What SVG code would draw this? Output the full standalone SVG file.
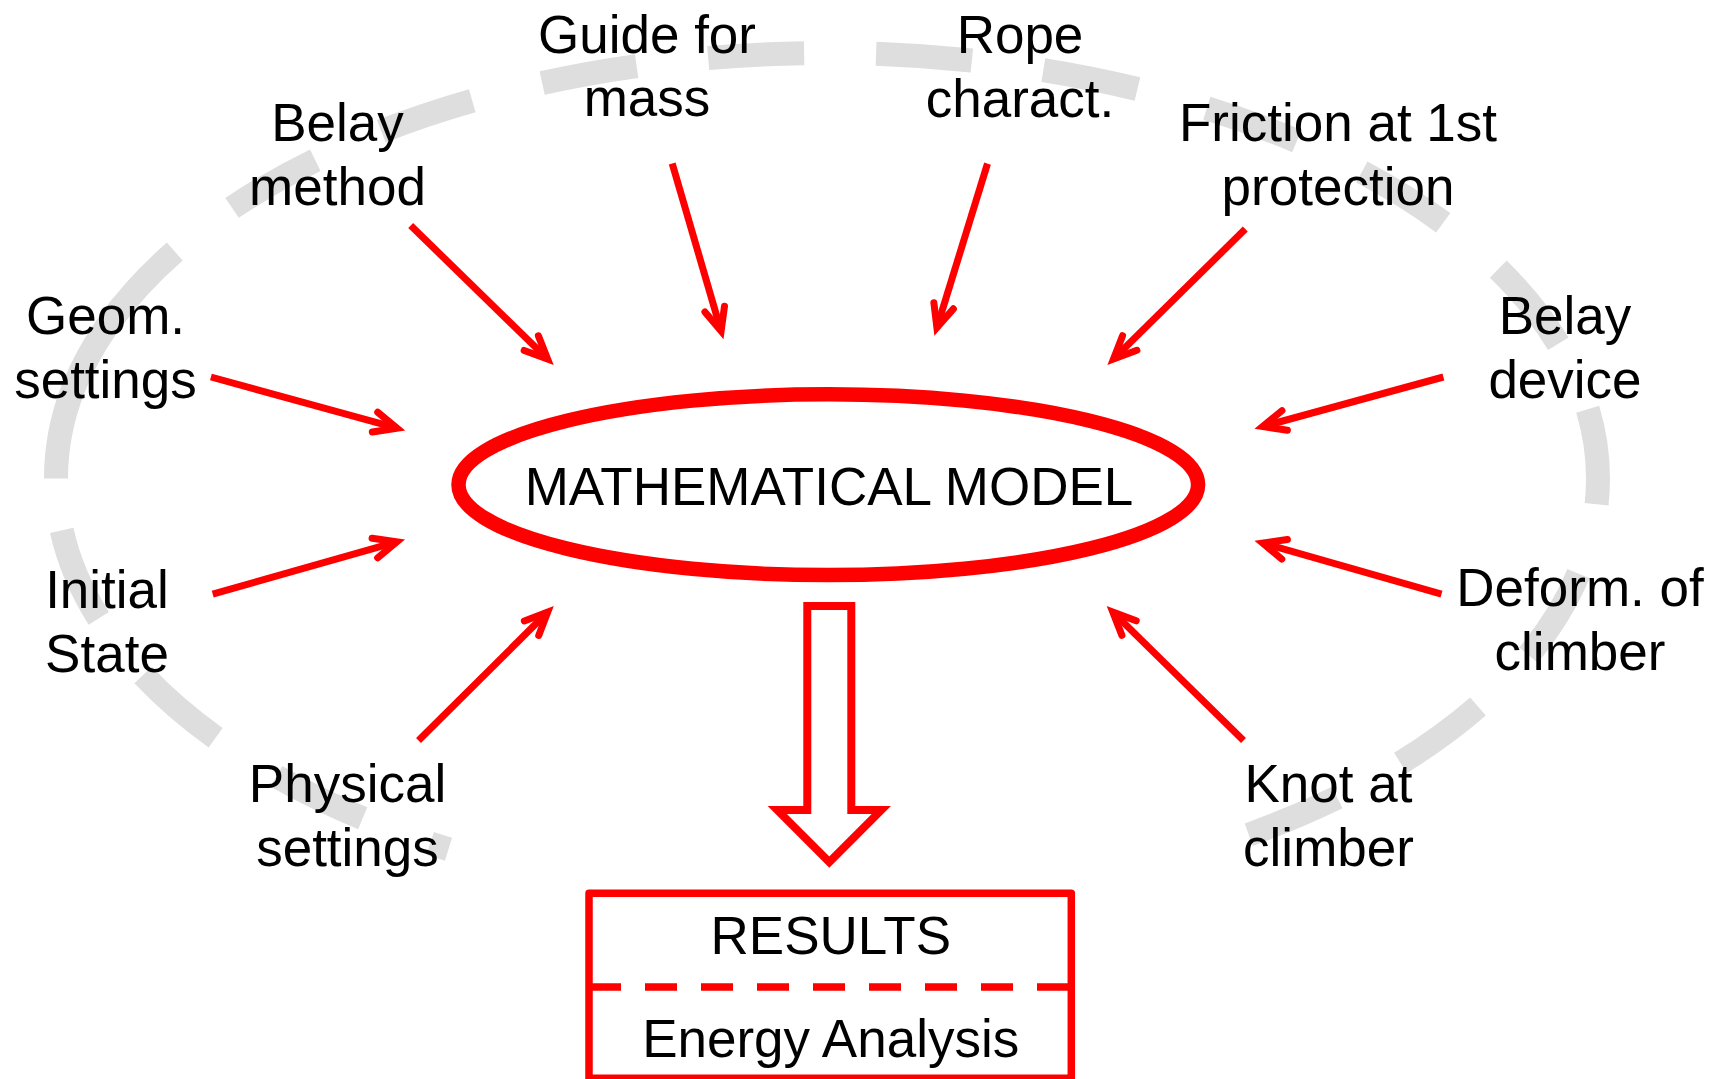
<svg xmlns="http://www.w3.org/2000/svg" width="1725" height="1079" viewBox="0 0 1725 1079">
<style>
  .ring { fill: none; stroke: #DEDEDE; stroke-width: 24; stroke-linecap: butt; }
  .lbl { font-family: "Liberation Sans", Arial, sans-serif; font-size: 53px; fill: #000000; text-anchor: middle; }
  .conn { stroke: #FF0000; stroke-width: 7; stroke-linecap: butt; fill: none; }
  .red { stroke: #FF0000; }
</style>
<defs>
  <marker id="ah" markerUnits="userSpaceOnUse" markerWidth="60" markerHeight="60" viewBox="-40 -30 60 60" refX="0" refY="0" orient="auto" overflow="visible">
    <path d="M -22.8 -10.2 L 0 0 L -22.8 10.2" fill="none" stroke="#FF0000" stroke-width="7" stroke-linecap="round" stroke-linejoin="miter"/>
  </marker>
</defs>
<rect x="0" y="0" width="1725" height="1079" fill="#FFFFFF"/>

<g id="background-ring">
  <path class="ring" d="M 56 478.5 A 771 425.5 0 0 1 122.7 305.4"/>
  <path class="ring" stroke-dasharray="96 72" d="M 110.1 321.9 A 771 425.5 0 1 1 1224.1 843.2"/>
  <path class="ring" stroke-dasharray="96 72" d="M 61.7 530.4 A 771 425.5 0 0 0 448.5 849.2"/>
</g>

<g id="connectors">
  <line class="conn" x1="410.7" y1="225.5" x2="547.6" y2="359.1" marker-end="url(#ah)"/>
  <line class="conn" x1="672.2" y1="163.6" x2="721.1" y2="331.0" marker-end="url(#ah)"/>
  <line class="conn" x1="987.5" y1="163.6" x2="936.9" y2="327.6" marker-end="url(#ah)"/>
  <line class="conn" x1="1245.3" y1="229" x2="1113.5" y2="359.0" marker-end="url(#ah)"/>
  <line class="conn" x1="210.9" y1="377" x2="397.0" y2="428.2" marker-end="url(#ah)"/>
  <line class="conn" x1="1443.4" y1="377" x2="1262.7" y2="426.5" marker-end="url(#ah)"/>
  <line class="conn" x1="212.7" y1="594.1" x2="396.8" y2="541.8" marker-end="url(#ah)"/>
  <line class="conn" x1="1441.5" y1="594.1" x2="1262.7" y2="543.0" marker-end="url(#ah)"/>
  <line class="conn" x1="418.5" y1="740.5" x2="547.7" y2="612.1" marker-end="url(#ah)"/>
  <line class="conn" x1="1243.5" y1="740.4" x2="1112.8" y2="612.1" marker-end="url(#ah)"/>
  <polygon id="result-arrow" points="807.3,606 851.3,606 851.3,810 881.3,810 829.3,862 777.3,810 807.3,810" fill="#FFFFFF" stroke="#FF0000" stroke-width="8" stroke-linejoin="miter"/>
</g>

<g id="model">
  <ellipse cx="828.3" cy="484.7" rx="369.8" ry="90.4" fill="#FFFFFF" class="red" stroke-width="14.5"/>
  <text class="lbl" x="829" y="504.5">MATHEMATICAL MODEL</text>
</g>

<g id="results">
  <rect x="589" y="893.3" width="482.3" height="185" fill="#FFFFFF" class="red" stroke-width="7.5" stroke-linejoin="round"/>
  <line x1="589" y1="987" x2="1071.3" y2="987" class="red" stroke-width="7.5" stroke-dasharray="32 24"/>
  <text class="lbl" x="830.8" y="954">RESULTS</text>
  <text class="lbl" x="830.7" y="1057.2">Energy Analysis</text>
</g>

<g id="guide-for-mass"><text class="lbl" x="647" y="52.5">Guide for</text><text class="lbl" x="647" y="116.2">mass</text></g>
<g id="rope-charact"><text class="lbl" x="1020" y="52.8">Rope</text><text class="lbl" x="1020" y="116.5">charact.</text></g>
<g id="belay-method"><text class="lbl" x="337.5" y="141.2">Belay</text><text class="lbl" x="337.5" y="204.9">method</text></g>
<g id="friction"><text class="lbl" x="1338" y="141.2">Friction at 1st</text><text class="lbl" x="1338" y="204.9">protection</text></g>
<g id="geom-settings"><text class="lbl" x="105.5" y="334.3">Geom.</text><text class="lbl" x="105.5" y="398">settings</text></g>
<g id="belay-device"><text class="lbl" x="1565" y="334.2">Belay</text><text class="lbl" x="1565" y="397.8">device</text></g>
<g id="initial-state"><text class="lbl" x="107" y="607.9">Initial</text><text class="lbl" x="107" y="671.6">State</text></g>
<g id="deform-climber"><text class="lbl" x="1580" y="606.3">Deform. of</text><text class="lbl" x="1580" y="670">climber</text></g>
<g id="physical-settings"><text class="lbl" x="347.5" y="802.4">Physical</text><text class="lbl" x="347.5" y="865.5">settings</text></g>
<g id="knot-climber"><text class="lbl" x="1328.5" y="802.4">Knot at</text><text class="lbl" x="1328.5" y="866">climber</text></g>
</svg>
